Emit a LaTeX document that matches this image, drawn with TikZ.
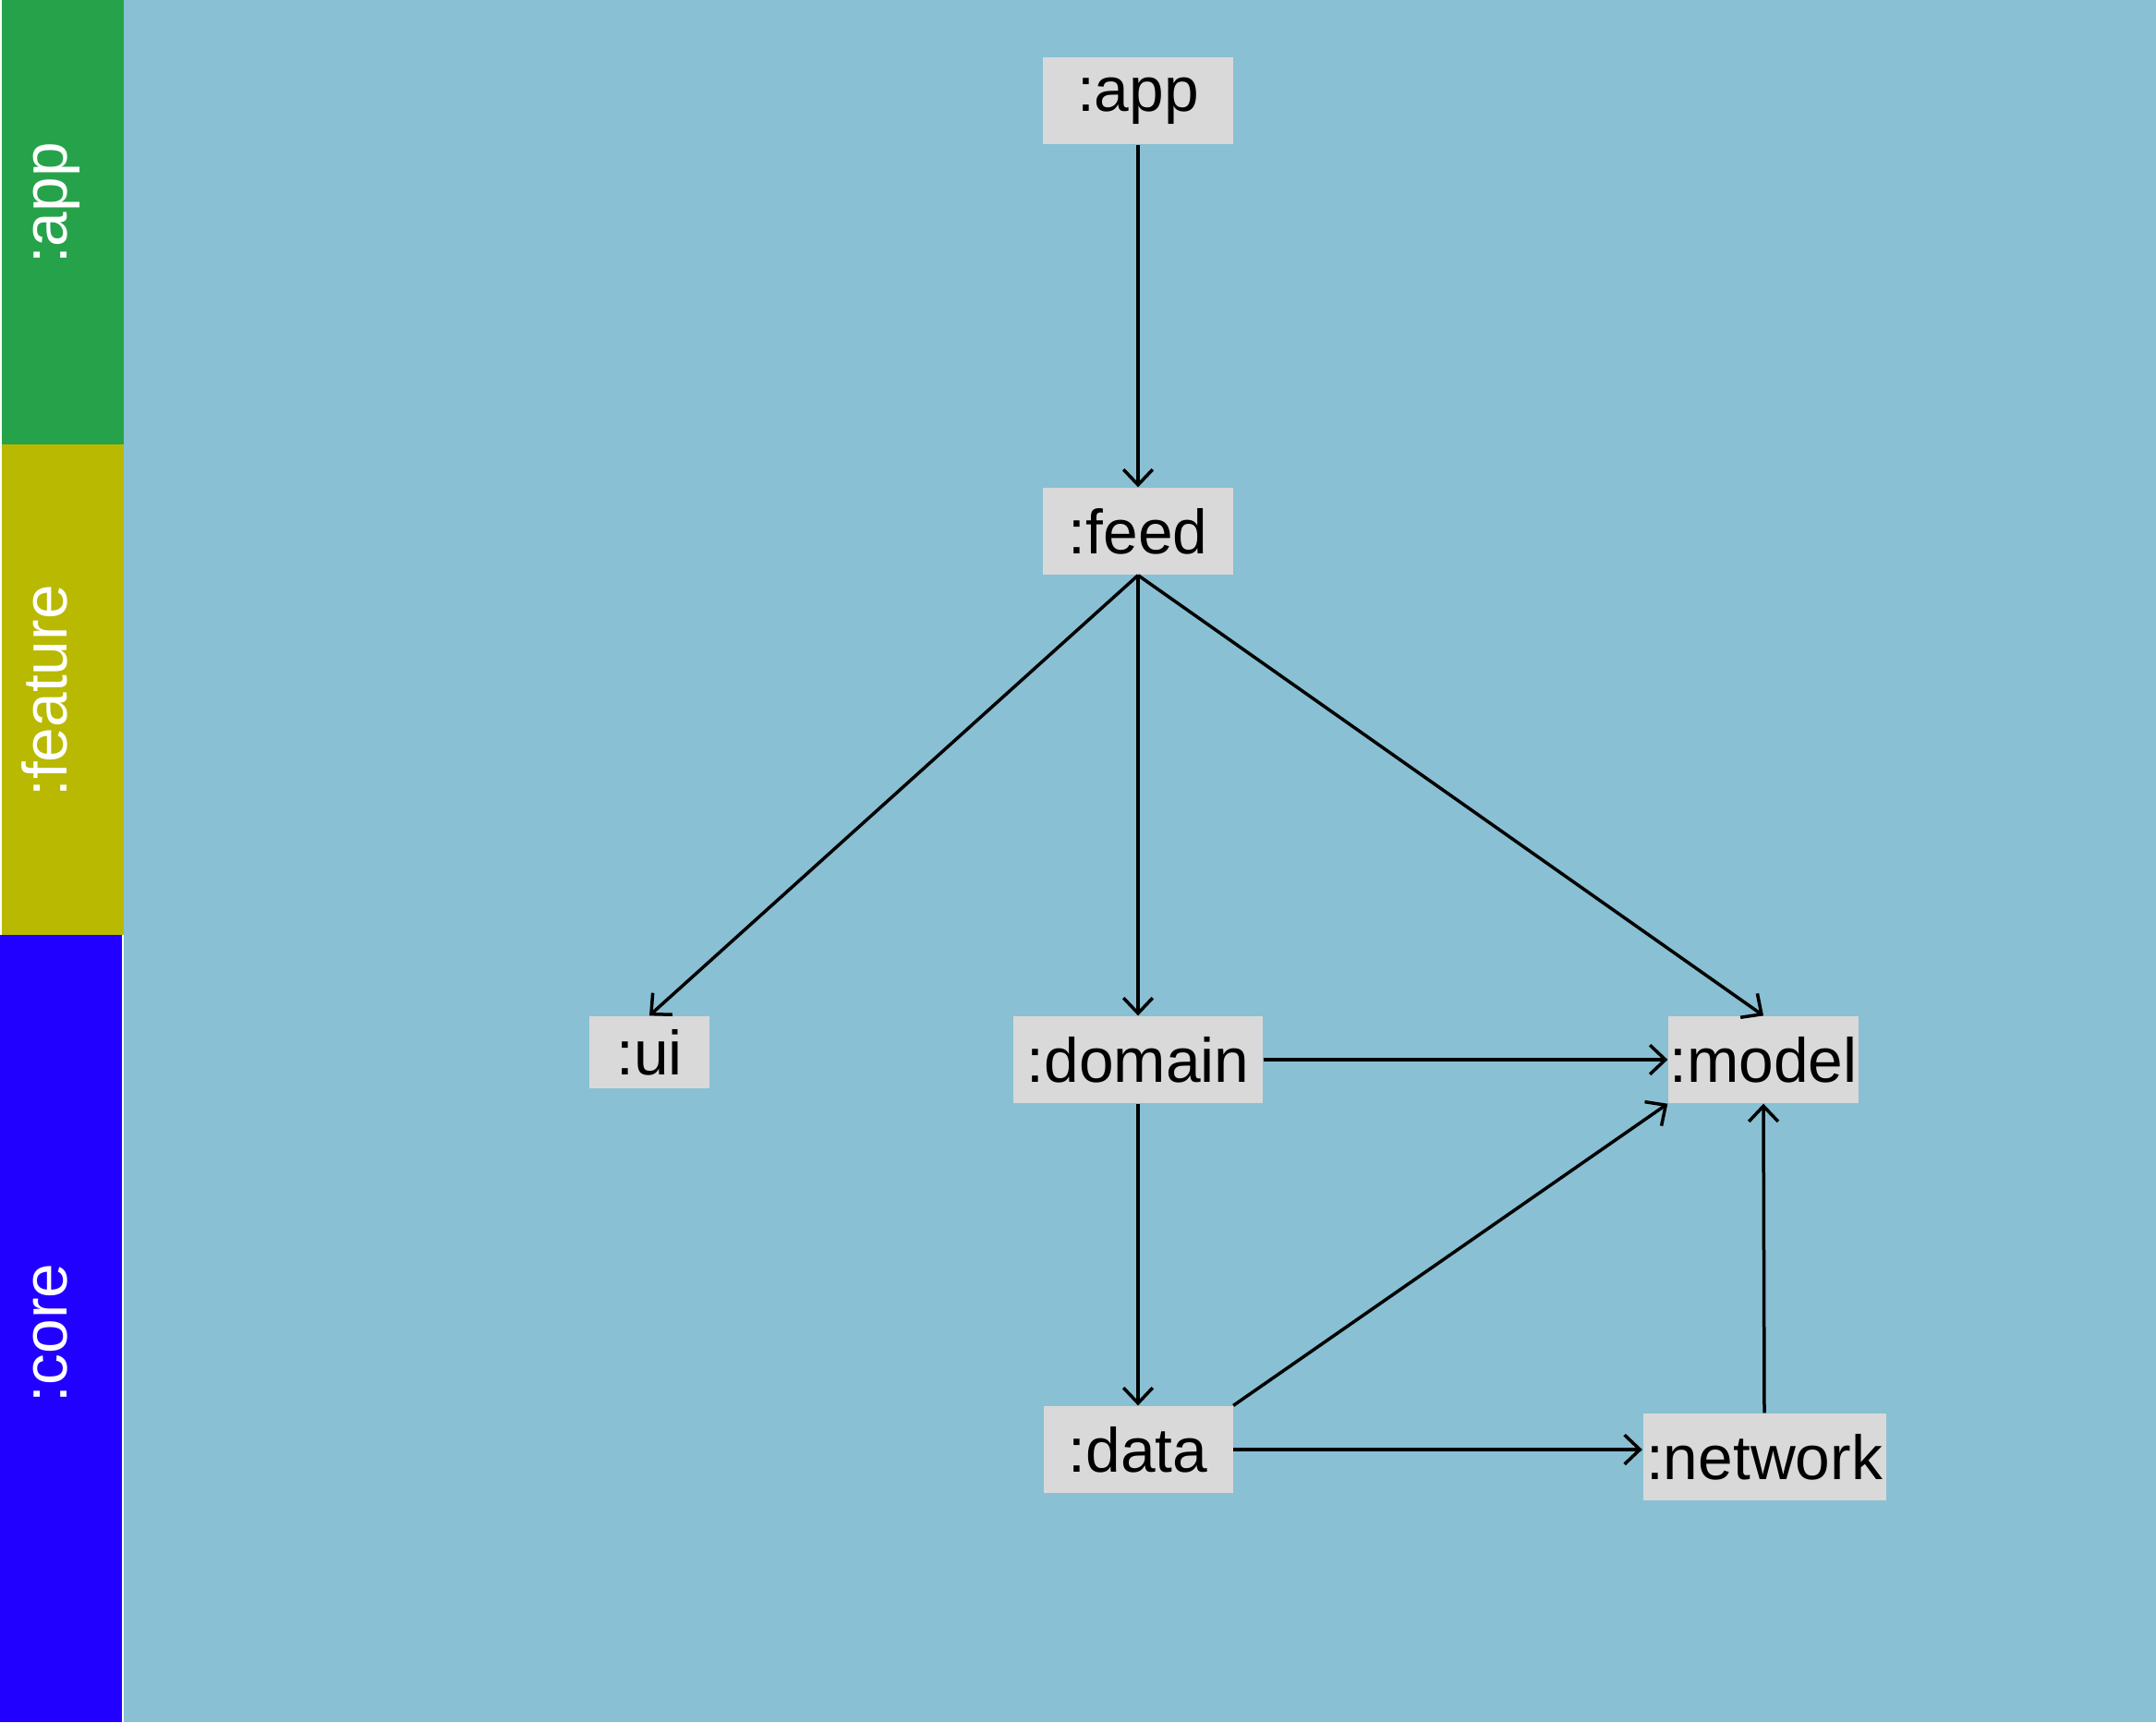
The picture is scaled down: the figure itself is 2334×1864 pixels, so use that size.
\documentclass[tikz,border=0pt]{standalone}
\usepackage{fontspec}
\setmainfont{Liberation Sans}
\usetikzlibrary{arrows.meta}
\definecolor{bgblue}{RGB}{137,192,211}
\definecolor{appgreen}{RGB}{38,163,74}
\definecolor{featyellow}{RGB}{184,185,0}
\definecolor{coreblue}{RGB}{34,0,255}
\definecolor{nodegray}{RGB}{217,217,217}
\begin{document}
\begin{tikzpicture}[x=0.3pt,y=-0.3pt,
  mod/.style={fill=nodegray, inner sep=0pt, minimum height=28.2pt, text=black,
    font=\fontsize{20.3pt}{24pt}\selectfont},
  side/.style={rotate=90, anchor=base, text=white, inner sep=0pt,
    font=\fontsize{20.3pt}{24pt}\selectfont},
  arr/.style={line width=1.05pt, -{Straight Barb[length=5pt,width=9.5pt]}}]
\useasboundingbox (0,0) rectangle (2334,1864);
\fill[white] (0,0) rectangle (2334,1864);
\fill[bgblue] (134,0) rectangle (2334,1864);
\fill[appgreen] (2,0) rectangle (134,481);
\fill[featyellow] (2,481) rectangle (134,1012);
\fill[coreblue] (0,1012) rectangle (132,1864);
\node[side] (sapp) at (72,220) {:app};
\node[side] (sfeat) at (72,748) {:feature};
\node[side] (score) at (72,1443) {:core};
\node[mod, minimum width=61.8pt] (app) at (1232,109) {:app};
\node[mod, minimum width=61.8pt] (feed) at (1232,575) {:feed};
\node[mod, minimum width=39pt, minimum height=23.4pt] (ui) at (703,1139) {:ui};
\node[mod, minimum width=81pt] (domain) at (1232,1147) {:domain};
\node[mod, minimum width=61.8pt] (model) at (1909,1147) {:model};
\node[mod, minimum width=61.5pt] (data) at (1232,1569) {:data};
\node[mod, minimum width=78.9pt] (network) at (1910,1577) {:network};
\draw[arr] (app.south) -- (feed.north);
\draw[arr] (feed.south) -- (ui.north);
\draw[arr] (feed.south) -- (domain.north);
\draw[arr] (feed.south) -- (model.north);
\draw[arr] (domain.east) -- (model.west);
\draw[arr] (domain.south) -- (data.north);
\draw[arr] (data.north east) -- (model.south west);
\draw[arr] (data.east) -- (data.east -| network.west);
\draw[arr] (network.north) -- (model.south);
\end{tikzpicture}
\end{document}
